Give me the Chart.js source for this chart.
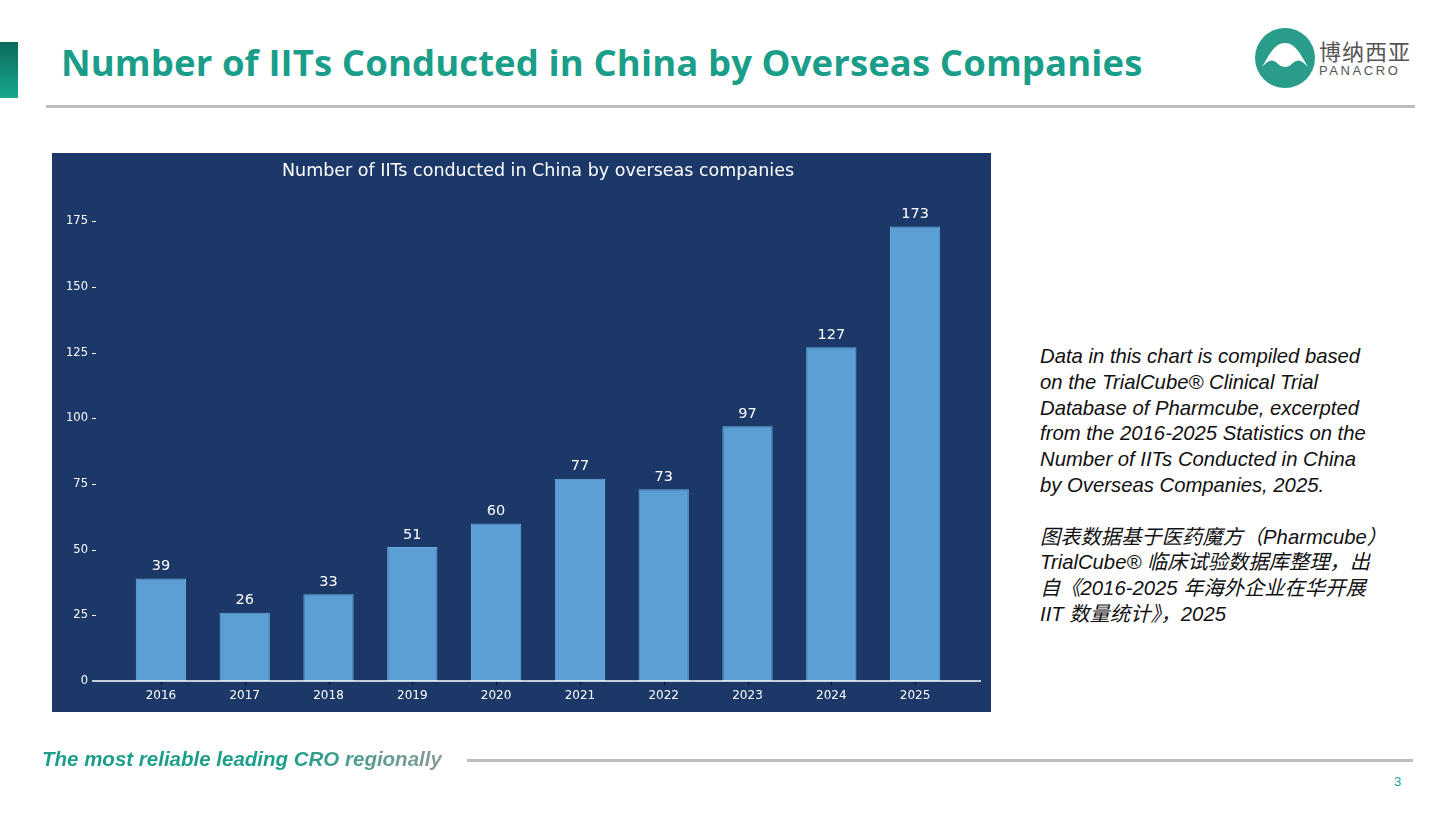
<!DOCTYPE html>
<html>
<head>
<meta charset="utf-8">
<script src="https://cdn.jsdelivr.net/npm/chart.js@4"></script>
<style>
  body { margin: 0; width: 1456px; height: 820px; background: #fff; position: relative; overflow: hidden; font-family: "Liberation Sans", Arial, sans-serif; }
  .abs { position: absolute; }
  #bar { left: 0; top: 42px; width: 18px; height: 56px; background: linear-gradient(#0d6b5c, #18a88e); }
  #title { left: 61px; top: 37px; font-family: "Open Sans", sans-serif; font-weight: 700; font-size: 36.5px; color: #1a9e8a; letter-spacing: 0.1px; white-space: nowrap; }
  #rule { left: 46px; top: 105px; width: 1369px; height: 3px; background: #bdbdbd; }
  #panel { left: 52px; top: 153px; width: 939px; height: 559px; background: #1b3869; }
  #note { left: 1040px; top: 344px; font-style: italic; font-size: 20.3px; line-height: 25.8px; color: #111; white-space: nowrap; }
  #foot { left: 42px; top: 747px; font-style: italic; font-weight: 700; font-size: 20.5px; white-space: nowrap; background: linear-gradient(90deg, #1a9e8a 60%, #8a9a98); -webkit-background-clip: text; background-clip: text; color: transparent; }
  #footrule { left: 467px; top: 759px; width: 946px; height: 3px; background: #bdbdbd; }
  #page { left: 1394px; top: 774px; font-size: 13px; color: #1a9e8a; }
  #logoText1 { left: 1319px; top: 38px; font-family: "Noto Sans CJK SC", sans-serif; font-size: 22px; line-height: 24px; color: #555; letter-spacing: 1px; }
  #logoText2 { left: 1319px; top: 63px; font-size: 13px; color: #555; letter-spacing: 2.6px; }
</style>
</head>
<body>
<div class="abs" id="bar"></div>
<div class="abs" id="title">Number of IITs Conducted in China by Overseas Companies</div>
<svg class="abs" style="left:1254px;top:27px" width="62" height="62" viewBox="0 0 62 62">
  <circle cx="31" cy="31" r="30" fill="#2a9d8a"/>
  <path d="M8 40 C14 30 20 16 31 16 C42 16 48 30 54 40 C50 36 46 32 42 34 C38 36 36 40 31 40 C26 40 24 36 20 34 C16 32 12 36 8 40 Z" fill="#fff"/>
</svg>
<div class="abs" id="logoText1">博纳西亚</div>
<div class="abs" id="logoText2">PANACRO</div>
<div class="abs" id="rule"></div>
<div class="abs" id="panel"><canvas id="chart" width="939" height="559"></canvas></div>
<div class="abs" id="note">Data in this chart is compiled based<br>on the TrialCube® Clinical Trial<br>Database of Pharmcube, excerpted<br>from the 2016-2025 Statistics on the<br>Number of IITs Conducted in China<br>by Overseas Companies, 2025.<br><br><span style="font-family:'Liberation Sans','Noto Sans CJK SC',sans-serif">图表数据基于医药魔方（Pharmcube）<br>TrialCube® 临床试验数据库整理，出<br>自《2016-2025 年海外企业在华开展<br>IIT 数量统计》，2025</span></div>
<div class="abs" id="foot">The most reliable leading CRO regionally</div>
<div class="abs" id="footrule"></div>
<div class="abs" id="page">3</div>
<script>
const years = ["2016", "2017", "2018", "2019", "2020", "2021", "2022", "2023", "2024", "2025"];
const iitCounts = [39, 26, 33, 51, 60, 77, 73, 97, 127, 173];
const yTicks = [0, 25, 50, 75, 100, 125, 150, 175];

const font = "DejaVu Sans";

// title, value labels, baseline and tick marks
const decor = {
  id: "decor",
  afterDatasetsDraw(chart) {
    const ctx = chart.ctx;
    const area = chart.chartArea;
    const y = chart.scales.y;
    const x = chart.scales.x;
    ctx.save();
    ctx.fillStyle = "#fff";
    ctx.font = "17.5px " + font;
    ctx.textAlign = "center";
    ctx.textBaseline = "middle";
    ctx.fillText("Number of IITs conducted in China by overseas companies", 486, 18);

    ctx.font = "14.5px " + font;
    ctx.textBaseline = "bottom";
    chart.getDatasetMeta(0).data.forEach((bar, i) => {
      ctx.fillText(iitCounts[i], bar.x, bar.y - 5);
    });

    ctx.strokeStyle = "#fff";
    ctx.lineWidth = 1.5;
    ctx.beginPath();
    ctx.moveTo(40, area.bottom);
    ctx.lineTo(929, area.bottom);
    ctx.stroke();

    ctx.lineWidth = 1;
    yTicks.slice(1).forEach(v => {
      const py = Math.round(y.getPixelForValue(v)) + 0.5;
      ctx.beginPath();
      ctx.moveTo(40, py);
      ctx.lineTo(44, py);
      ctx.stroke();
    });
    ctx.strokeStyle = "#000";
    years.forEach((_, i) => {
      const px = Math.round(x.getPixelForValue(i)) + 0.5;
      ctx.beginPath();
      ctx.moveTo(px, area.bottom + 1);
      ctx.lineTo(px, area.bottom + 4);
      ctx.stroke();
    });
    ctx.restore();
  }
};

new Chart(document.getElementById("chart"), {
  type: "bar",
  data: {
    labels: years,
    datasets: [{
      data: iitCounts,
      backgroundColor: "#5b9fd4",
      borderColor: "#6aaee0",
      borderWidth: 1,
      categoryPercentage: 0.6,
      barPercentage: 1
    }]
  },
  options: {
    responsive: false,
    animation: false,
    layout: { padding: { top: 42, right: 34, left: 0, bottom: 0 } },
    plugins: { legend: { display: false }, tooltip: { enabled: false } },
    scales: {
      x: {
        grid: { display: false, drawTicks: false },
        border: { display: false },
        ticks: { color: "#fff", font: { family: font, size: 12 }, padding: 8, maxRotation: 0 },
        afterFit(s) { s.height = 31; }
      },
      y: {
        min: 0,
        max: 185,
        grid: { display: false },
        border: { display: false },
        afterBuildTicks(s) { s.ticks = yTicks.map(v => ({ value: v })); },
        ticks: { color: "#fff", font: { family: font, size: 11.5 }, padding: 23 },
        afterFit(s) { s.width = 67; }
      }
    }
  },
  plugins: [decor]
});
</script>
</body>
</html>
